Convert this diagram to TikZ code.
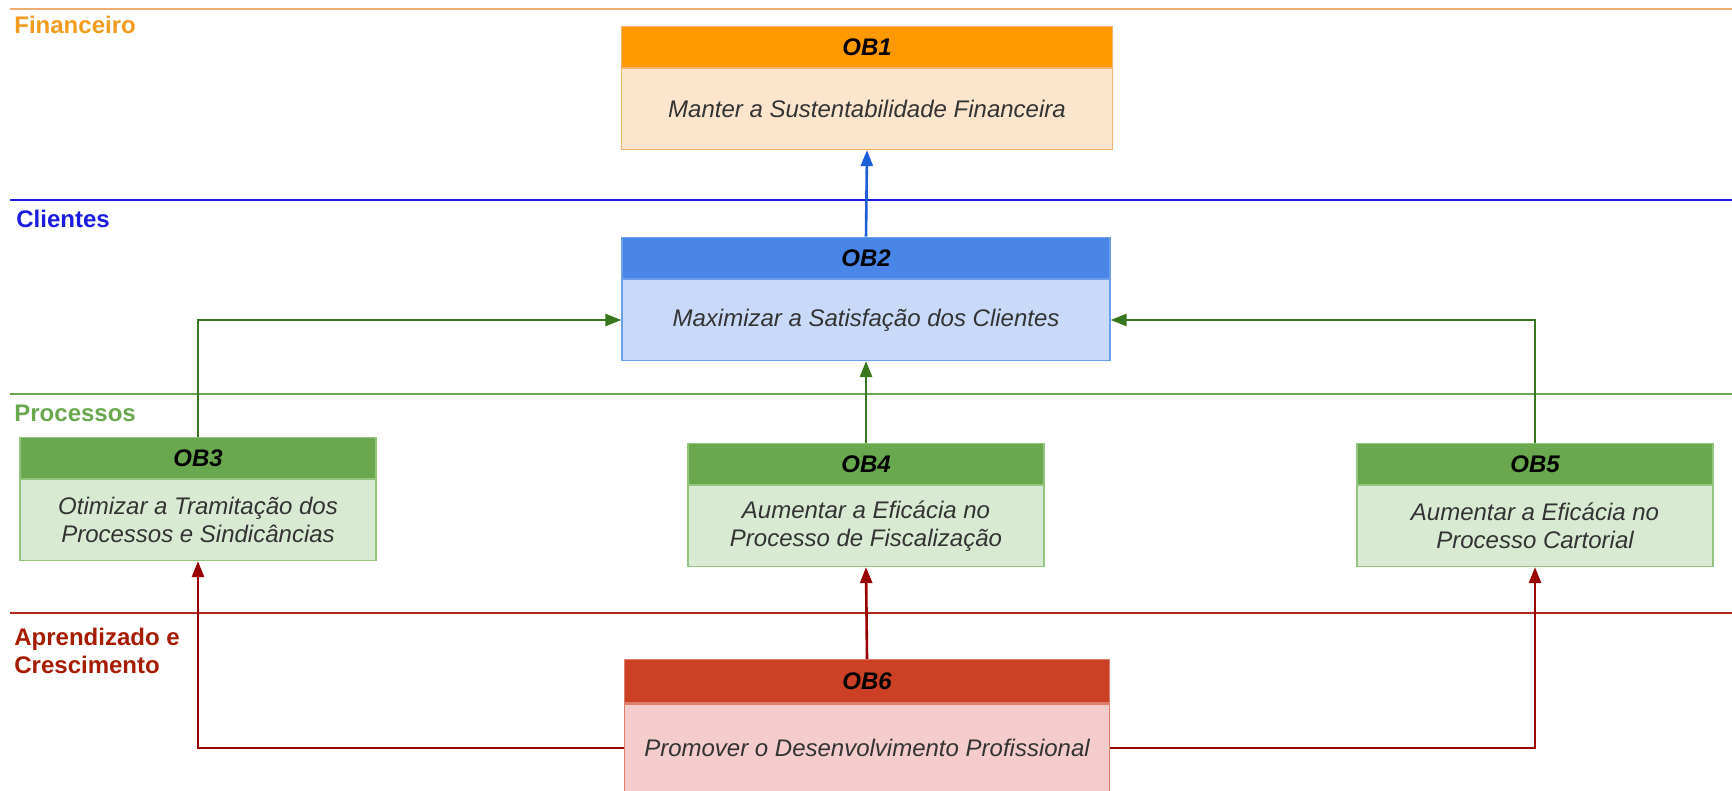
\documentclass[tikz,border=0pt]{standalone}
\usepackage{fontspec}
\setmainfont{Liberation Sans}
\usetikzlibrary{arrows.meta,positioning}

% perspective colours
\definecolor{finhead}{HTML}{FF9900}
\definecolor{finbody}{HTML}{FCE5CD}
\definecolor{finedge}{HTML}{F6B26B}
\definecolor{finline}{HTML}{EDAE70}
\definecolor{finlabel}{HTML}{F29B1D}
\definecolor{clihead}{HTML}{4A86E8}
\definecolor{clibody}{HTML}{C9DAF8}
\definecolor{cliedge}{HTML}{6D9EEB}
\definecolor{cliline}{HTML}{1C1CE0}
\definecolor{cliarrow}{HTML}{1C5FD8}
\definecolor{prohead}{HTML}{6AA84F}
\definecolor{probody}{HTML}{D9EAD3}
\definecolor{proedge}{HTML}{93C47D}
\definecolor{proline}{HTML}{6AA84F}
\definecolor{proarrow}{HTML}{38761D}
\definecolor{aprhead}{HTML}{CC4125}
\definecolor{aprbody}{HTML}{F4CCCC}
\definecolor{apredge}{HTML}{DD7E6B}
\definecolor{aprline}{HTML}{B3261E}
\definecolor{aprlabel}{HTML}{A61C00}
\definecolor{aprarrow}{HTML}{990000}
\definecolor{bodytext}{HTML}{333333}

\tikzset{
  hdr/.style={rectangle,draw=#1edge,fill=#1head,line width=0.6pt,inner sep=0pt,
    minimum height=20.5pt,font=\fontsize{12}{14}\selectfont\bfseries\itshape},
  bod/.style={rectangle,draw=#1edge,fill=#1body,line width=0.6pt,inner sep=0pt,
    minimum height=40.5pt,align=center,text=bodytext,font=\fontsize{12}{14}\selectfont\itshape},
  lane/.style={draw=#1,line width=1.1pt},
  lbl/.style={anchor=west,align=left,inner sep=0pt,font=\fontsize{12}{14}\selectfont\bfseries},
  link/.style={draw=#1,line width=1.3pt,-{Triangle[length=8pt,width=6pt]}}
}

\begin{document}
\begin{tikzpicture}[x=0.5pt,y=-0.5pt]
  \useasboundingbox (0,0) rectangle (1732,791);

  % perspective lanes
  \draw[lane=finline] (10,9) -- (1732,9);
  \draw[lane=cliline] (10,200) -- (1732,200);
  \draw[lane=proline] (10,394) -- (1732,394);
  \draw[lane=aprline] (10,613) -- (1732,613);
  \node[lbl,text=finlabel] (finlbl) at (14,25) {Financeiro};
  \node[lbl,text=cliline] (clilbl) at (16,219) {Clientes};
  \node[lbl,text=proline] (prolbl) at (14,413) {Processos};
  \node[lbl,text=aprlabel] (aprlbl) at (14,651) {Aprendizado e\\Crescimento};

  % objectives
  \node[bod=fin,minimum width=245.5pt] (ob1) at (867,109) {Manter a Sustentabilidade Financeira};
  \node[hdr=fin,minimum width=245.5pt,above=0pt of ob1] (ob1h) {OB1};
  \node[bod=cli,minimum width=244pt] (ob2) at (866,320) {Maximizar a Satisfação dos Clientes};
  \node[hdr=cli,minimum width=244pt,above=0pt of ob2] (ob2h) {OB2};
  \node[bod=pro,minimum width=178pt] (ob3) at (198,520) {Otimizar a Tramitação dos\\Processos e Sindicâncias};
  \node[hdr=pro,minimum width=178pt,above=0pt of ob3] (ob3h) {OB3};
  \node[bod=pro,minimum width=178pt] (ob4) at (866,526) {Aumentar a Eficácia no\\Processo de Fiscalização};
  \node[hdr=pro,minimum width=178pt,above=0pt of ob4] (ob4h) {OB4};
  \node[bod=pro,minimum width=178pt] (ob5) at (1535,526) {Aumentar a Eficácia no\\Processo Cartorial};
  \node[hdr=pro,minimum width=178pt,above=0pt of ob5] (ob5h) {OB5};
  \node[bod=apr,minimum width=242.5pt,minimum height=44pt] (ob6) at (867,748) {Promover o Desenvolvimento Profissional};
  \node[hdr=apr,minimum width=242.5pt,minimum height=21.5pt,above=0pt of ob6] (ob6h) {OB6};

  % cause and effect
  \draw[link=cliarrow] (ob2h.north) -- (ob1.south);
  \draw[link=proarrow] (ob3h.north) |- (ob2.west);
  \draw[link=proarrow] (ob4h.north) -- (ob2.south);
  \draw[link=proarrow] (ob5h.north) |- (ob2.east);
  \draw[link=aprarrow] (ob6h.north) -- (ob4.south);
  \draw[link=aprarrow] (ob6.west) -| (ob3.south);
  \draw[link=aprarrow] (ob6.east) -| (ob5.south);
\end{tikzpicture}
\end{document}
